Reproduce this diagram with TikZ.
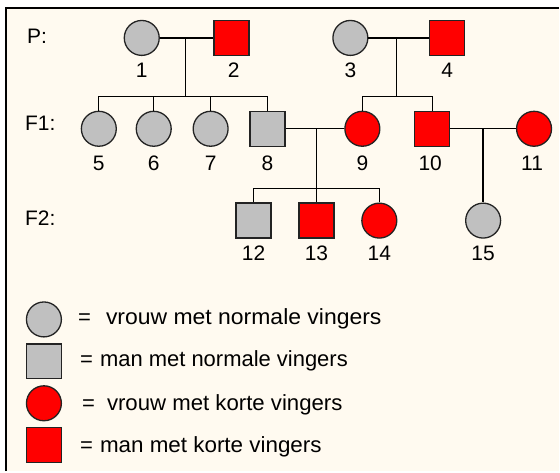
\documentclass[tikz,border=0pt]{standalone}
\usepackage{fontspec}
\setmainfont{Liberation Sans}
\definecolor{paper}{RGB}{255,250,240}
\definecolor{normalc}{RGB}{192,192,192}
\definecolor{shortc}{RGB}{255,0,0}
\definecolor{edgec}{RGB}{35,35,35}
\begin{document}
\begin{tikzpicture}[x=1pt,y=-1pt,
  person/.style={draw=edgec, line width=1.3pt, minimum size=35pt, inner sep=0pt},
  female/.style={person, circle},
  male/.style={person, rectangle},
  normal/.style={fill=normalc},
  short/.style={fill=shortc},
  tag/.style={font=\fontsize{21}{21}\selectfont, inner sep=0pt},
  keytext/.style={font=\fontsize{22}{22}\selectfont, inner sep=0pt, anchor=base west},
  link/.style={line width=1.3pt, black}]

% paper and frame
\fill[white] (0,0) rectangle (560,472);
\fill[paper] (6,8) rectangle (560,472);
\draw[line width=2pt] (6,472) -- (6,8) -- (560,8);
\useasboundingbox (0,0) rectangle (560,472);

% generation labels
\node[tag, anchor=west] (gP) at (27,36) {P:};
\node[tag, anchor=west] (gF1) at (25,124) {F1:};
\node[tag, anchor=west] (gF2) at (25,219) {F2:};

% parents
\node[female, normal] (p1) at (142,38) {};
\node[male, short] (p2) at (232,38) {};
\node[female, normal] (p3) at (351,38) {};
\node[male, short] (p4) at (448,38) {};

% first generation
\node[female, normal] (p5) at (99,129) {};
\node[female, normal] (p6) at (154,129) {};
\node[female, normal] (p7) at (211,129) {};
\node[male, normal] (p8) at (268,129) {};
\node[female, short] (p9) at (363,129) {};
\node[male, short] (p10) at (433,129) {};
\node[female, short] (p11) at (535,129) {};

% second generation
\node[male, normal] (p12) at (254,221) {};
\node[male, short] (p13) at (317,221) {};
\node[female, short] (p14) at (380,221) {};
\node[female, normal] (p15) at (484,221) {};

% numbers
\node[tag] (n1) at (142,70) {1};
\node[tag] (n2) at (234,70) {2};
\node[tag] (n3) at (351,70) {3};
\node[tag] (n4) at (448,70) {4};
\node[tag] (n5) at (99,164) {5};
\node[tag] (n6) at (154,164) {6};
\node[tag] (n7) at (211,164) {7};
\node[tag] (n8) at (268,164) {8};
\node[tag] (n9) at (363,164) {9};
\node[tag] (n10) at (431,164) {10};
\node[tag] (n11) at (533,164) {11};
\node[tag] (n12) at (254,254) {12};
\node[tag] (n13) at (317,254) {13};
\node[tag] (n14) at (380,254) {14};
\node[tag] (n15) at (484,254) {15};

% couples and their children
\coordinate (m12) at (186,38);
\coordinate (c12) at (186,97);
\draw[link] (p1.east) -- (p2.west);
\draw[link] (m12) -- (c12);
\draw[link] (p5.north) |- (c12) -| (p8.north);
\draw[link] (p6.north) -- (p6.north |- c12);
\draw[link] (p7.north) -- (p7.north |- c12);

\coordinate (m34) at (397,38);
\coordinate (c34) at (397,97);
\draw[link] (p3.east) -- (p4.west);
\draw[link] (m34) -- (c34);
\draw[link] (p9.north) |- (c34) -| (p10.north);

\coordinate (m89) at (317,129);
\coordinate (c89) at (317,189);
\draw[link] (p8.east) -- (p9.west);
\draw[link] (m89) -- (p13.north);
\draw[link] (p12.north) |- (c89) -| (p14.north);

\coordinate (m1011) at (484,129);
\draw[link] (p10.east) -- (p11.west);
\draw[link] (m1011) -- (p15.north);

% legend
\node[female, normal] (k1) at (44,320) {};
\node[male, normal] (k2) at (44,362) {};
\node[female, short] (k3) at (44,404) {};
\node[male, short] (k4) at (44,446) {};
\node[keytext] (e1) at (78,325) {=};
\node[keytext] (e2) at (80,367) {=};
\node[keytext] (e3) at (82,411) {=};
\node[keytext] (e4) at (80,453) {=};
\node[keytext, xscale=1.045, transform shape] (t1) at (106,325) {vrouw met normale vingers};
\node[keytext] (t2) at (100,367) {man met normale vingers};
\node[keytext, xscale=1.01, transform shape] (t3) at (107,411) {vrouw met korte vingers};
\node[keytext, xscale=1.02, transform shape] (t4) at (100,453) {man met korte vingers};
\end{tikzpicture}
\end{document}
